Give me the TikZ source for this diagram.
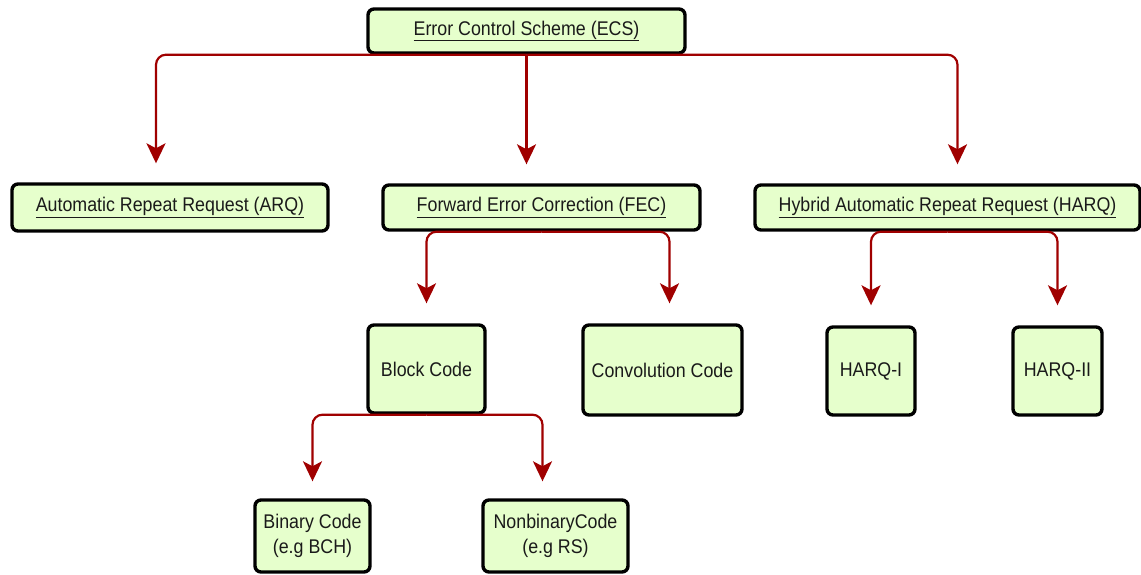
\documentclass[tikz,border=0pt]{standalone}
\usepackage{fontspec}
\setmainfont{Liberation Sans}[FakeStretch=0.9]
\usetikzlibrary{arrows.meta}
\definecolor{boxfill}{HTML}{E6FFCC}
\definecolor{linkred}{HTML}{A00000}
\definecolor{ink}{HTML}{1A1A1A}
\tikzset{
  box/.style={draw=black, line width=3.4pt, rounded corners=6pt, fill=boxfill,
    text=ink, inner sep=0pt, align=center,
    font=\fontsize{19.8}{25}\selectfont},
  conn/.style={draw=linkred, line width=2.2pt, rounded corners=10pt,
    -{Stealth[length=20pt,width=19pt,inset=5pt]}},
}
\begin{document}
\begin{tikzpicture}[x=1pt,y=-1pt]
\useasboundingbox (0,0) rectangle (1141,574);

% top level
\node[box, minimum width=317pt, minimum height=44pt] (ecs) at (526.5,31)
  {\underline{Error Control Scheme (ECS)}};

% second level
\node[box, minimum width=316pt, minimum height=47pt] (arq) at (170,207.5)
  {\underline{Automatic Repeat Request (ARQ)}};
\node[box, minimum width=317pt, minimum height=45pt] (fec) at (541.5,207.5)
  {\underline{Forward Error Correction (FEC)}};
\node[box, minimum width=385pt, minimum height=45pt] (harq) at (947.5,207.5)
  {\underline{Hybrid Automatic Repeat Request (HARQ)}};

% third level
\node[box, minimum width=117pt, minimum height=88pt] (block) at (426.5,369) {Block Code};
\node[box, minimum width=159pt, minimum height=90pt] (conv) at (662.5,370) {Convolution Code};
\node[box, minimum width=88pt, minimum height=88pt] (harq1) at (871,371) {HARQ-I};
\node[box, minimum width=89pt, minimum height=88pt] (harq2) at (1057.5,371) {HARQ-II};

% fourth level
\node[box, minimum width=115pt, minimum height=72pt] (bin) at (312.5,536)
  {Binary Code\\(e.g BCH)};
\node[box, minimum width=145pt, minimum height=72pt] (nonbin) at (555.5,536)
  {NonbinaryCode\\(e.g RS)};

% connectors
\draw[conn, shorten >=19pt] (ecs.south) -| ([xshift=-14pt]arq.north);
\draw[conn, shorten >=19pt] (ecs.south) -- (ecs.south |- fec.north);
\draw[conn, shorten >=19pt] (ecs.south) -| ([xshift=10pt]harq.north);

\draw[conn, shorten >=20pt] (fec.south) -| (block.north);
\draw[conn, shorten >=20pt] (fec.south) -| ([xshift=7pt]conv.north);

\draw[conn, shorten >=20pt] (harq.south) -| (harq1.north);
\draw[conn, shorten >=20pt] (harq.south) -| (harq2.north);

\draw[conn, shorten >=17pt] (block.south) -| (bin.north);
\draw[conn, shorten >=17pt] (block.south) -| ([xshift=-13pt]nonbin.north);
\end{tikzpicture}
\end{document}
